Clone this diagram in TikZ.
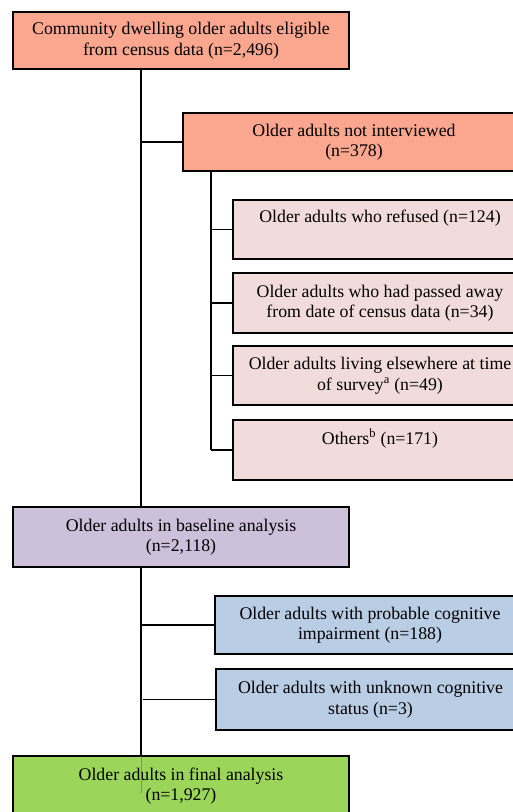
\documentclass[tikz,border=0pt]{standalone}
\usepackage{fontspec}
\setmainfont{Liberation Serif}
\definecolor{salmon}{HTML}{FBA68E}
\definecolor{pinkbox}{HTML}{F2DCDB}
\definecolor{purplebox}{HTML}{CCC0DA}
\definecolor{bluebox}{HTML}{B9CDE5}
\definecolor{greenbox}{HTML}{9BD65A}
\tikzset{
  flowbox/.style={draw=black, line width=1.5pt, align=center, inner sep=1pt,
    font=\fontsize{17.8}{20.5}\selectfont},
  conn/.style={draw=black, line width=1.3pt},
}
\begin{document}
\begin{tikzpicture}[x=1pt,y=-1pt]
\useasboundingbox (0,0) rectangle (513,812);
\clip (0,0) rectangle (513,812);
% boxes
\node[flowbox, fill=salmon, minimum width=336pt, minimum height=57pt] (top) at (181,40.5)
  {Community dwelling older adults eligible\\from census data (n=2,496)};
\node[flowbox, fill=salmon, minimum width=342pt, minimum height=58pt] (notint) at (354,142)
  {Older adults not interviewed\\(n=378)};
\node[flowbox, fill=pinkbox, minimum width=294pt, minimum height=59pt] (refused) at (380,229.5)
  {Older adults who refused (n=124)\\\strut};
\node[flowbox, fill=pinkbox, minimum width=294pt, minimum height=60pt] (passed) at (380,303)
  {Older adults who had passed away\\from date of census data (n=34)};
\node[flowbox, fill=pinkbox, minimum width=294pt, minimum height=59pt] (elsewhere) at (380,375.5)
  {Older adults living elsewhere at time\\of survey\textsuperscript{a} (n=49)};
\node[flowbox, fill=pinkbox, minimum width=294pt, minimum height=60pt] (others) at (380,450)
  {Others\textsuperscript{b} (n=171)\\\strut};
\node[flowbox, fill=purplebox, minimum width=336pt, minimum height=60pt] (baseline) at (181,537)
  {Older adults in baseline analysis\\(n=2,118)};
\node[flowbox, fill=bluebox, minimum width=310pt, minimum height=58pt] (probable) at (370,625)
  {Older adults with probable cognitive\\impairment (n=188)};
\node[flowbox, fill=bluebox, minimum width=309pt, minimum height=61pt] (unknown) at (370.5,699.5)
  {Older adults with unknown cognitive\\status (n=3)};
\node[flowbox, fill=greenbox, minimum width=336pt, minimum height=60pt] (final) at (181,786)
  {Older adults in final analysis\\(n=1,927)};
% connector coordinates
\coordinate (mtop) at (141,69);
\coordinate (mbot) at (141,507);
\coordinate (btop) at (141,567);
\coordinate (bbot) at (141,756);
\coordinate (stop) at (211,171);
\coordinate (sbot) at (211,450);
\coordinate (ghost) at (141,793);
% main trunk
\draw[conn] (mtop) -- (mbot);
\draw[conn] (mtop |- notint.west) -- (notint.west);
% sub trunk
\draw[conn] (stop) -- (sbot);
\draw[conn] (stop |- refused.west) -- (refused.west);
\draw[conn] (stop |- passed.west) -- (passed.west);
\draw[conn] (stop |- elsewhere.west) -- (elsewhere.west);
\draw[conn] (stop |- others.west) -- (others.west);
% second trunk
\draw[conn] (btop) -- (bbot);
\draw[conn] (btop |- probable.west) -- (probable.west);
\draw[conn] ([xshift=2pt]btop |- unknown.west) -- (unknown.west);
% faint trace inside the final box
\draw[greenbox!60!black, line width=0.6pt, opacity=0.6] (bbot) -- (ghost);
\end{tikzpicture}
\end{document}
